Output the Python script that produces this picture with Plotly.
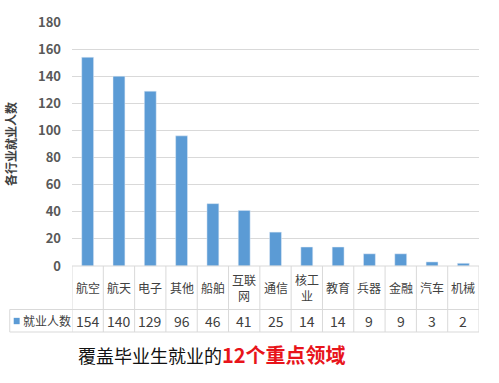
import plotly.graph_objects as go

categories = ["航空", "航天", "电子", "其他", "船舶", "互联网", "通信", "核工业", "教育", "兵器", "金融", "汽车", "机械"]
category_labels = ["航空", "航天", "电子", "其他", "船舶", "互联<br>网", "通信", "核工<br>业", "教育", "兵器", "金融", "汽车", "机械"]
values = [154, 140, 129, 96, 46, 41, 25, 14, 14, 9, 9, 3, 2]
series_name = "就业人数"
y_title = "各行业就业人数"
caption_black = "覆盖毕业生就业的"
caption_red = "12个重点领域"

W, H = 499, 383
L, R, T, B = 67, 20, 17, 116.5
plot_h = H - T - B
plot_w = W - L - R

def py(px):
    return (H - B - px) / plot_h

def pxx(px):
    return (px - L) / plot_w

FONT = "Noto Sans CJK SC"
BLUE = "#5B9BD5"
GRID = "#d9d9d9"
TXT = "#404040"

fig = go.Figure()
fig.add_trace(go.Bar(x=categories, y=values, marker_color=BLUE, width=0.38, name=series_name,
                     showlegend=False))

n = len(categories)
row1_bot = py(311)
row2_bot = py(334)
top = py(266.5)
shapes = []
shapes.append(dict(type="line", xref="paper", yref="paper", x0=0, x1=1, y0=top, y1=top, line=dict(color=GRID, width=1)))
shapes.append(dict(type="line", xref="paper", yref="paper", x0=pxx(4), x1=1, y0=row1_bot, y1=row1_bot, line=dict(color=GRID, width=1)))
shapes.append(dict(type="line", xref="paper", yref="paper", x0=pxx(4), x1=1, y0=row2_bot, y1=row2_bot, line=dict(color=GRID, width=1)))
for i in range(n + 1):
    shapes.append(dict(type="line", xref="x", yref="paper", x0=i - 0.5, x1=i - 0.5, y0=top, y1=row2_bot,
                       line=dict(color=GRID, width=1)))
shapes.append(dict(type="line", xref="paper", yref="paper", x0=pxx(4), x1=pxx(4), y0=row1_bot, y1=row2_bot,
                   line=dict(color=GRID, width=1)))
shapes.append(dict(type="rect", xref="paper", yref="paper", x0=pxx(8), x1=pxx(14), y0=py(326), y1=py(319.5),
                   fillcolor=BLUE, line=dict(width=0)))

annotations = []
for i, (lab, v) in enumerate(zip(category_labels, values)):
    annotations.append(dict(x=i, y=(top + row1_bot) / 2, xref="x", yref="paper", text=lab, showarrow=False,
                            font=dict(family=FONT, size=12, color=TXT), xanchor="center", yanchor="middle",
                            borderpad=0))
    annotations.append(dict(x=i, y=(row1_bot + row2_bot) / 2, xref="x", yref="paper", text=str(v), showarrow=False,
                            font=dict(family=FONT, size=14, color=TXT), xanchor="center", yanchor="middle",
                            borderpad=0))
annotations.append(dict(x=pxx(16), y=(row1_bot + row2_bot) / 2, xref="paper", yref="paper", text=series_name,
                        showarrow=False, font=dict(family=FONT, size=12, color=TXT), xanchor="left", yanchor="middle",
                        borderpad=0))
annotations.append(dict(x=pxx(71), y=py(357), xref="paper", yref="paper",
                        text=caption_black + "<span style='color:#e8141b;font-size:20px'><b>" + caption_red + "</b></span>",
                        showarrow=False, font=dict(family=FONT, size=18, color="#111111"),
                        xanchor="left", yanchor="middle"))

fig.update_layout(
    width=W, height=H,
    margin=dict(l=L, r=R, t=T, b=B, pad=0),
    paper_bgcolor="white", plot_bgcolor="white",
    shapes=shapes, annotations=annotations,
    font=dict(family=FONT),
    bargap=0.6,
)
fig.update_xaxes(showticklabels=False, showgrid=False, zeroline=False, showline=False,
                 range=[-0.5, n - 0.5], ticks="")
fig.update_yaxes(range=[0, 180], dtick=20, showgrid=True, gridcolor=GRID, gridwidth=1, zeroline=False,
                 showline=False, ticks="", ticklabelstandoff=10,
                 tickfont=dict(family=FONT, size=13, color="#595959", weight="bold"),
                 title=dict(text=y_title, standoff=18, font=dict(family=FONT, size=12, color="#404040", weight="bold")))

fig.write_html("out.html", config={"displayModeBar": False},
               post_script="document.body.style.margin='0';document.body.style.overflow='hidden';")
